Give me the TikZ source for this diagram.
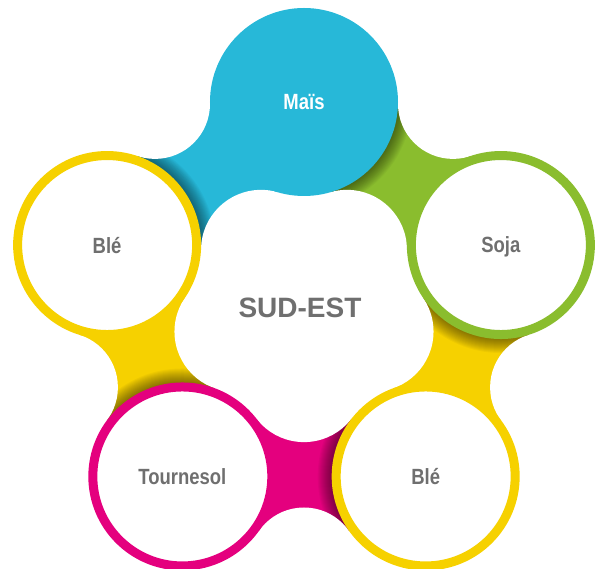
\documentclass[tikz,border=0pt]{standalone}
\usepackage{fontspec}
\setmainfont{Liberation Sans}
\newfontfamily\condfont{Liberation Sans}[FakeStretch=0.84]
\usetikzlibrary{calc}
\definecolor{cblue}{HTML}{27B8D8}
\definecolor{cgreen}{HTML}{8ABD2E}
\definecolor{cyellow}{HTML}{F6D100}
\definecolor{cmagenta}{HTML}{E4007E}
\definecolor{tgrey}{HTML}{6F6F6F}
\pgfdeclarelayer{bg}
\pgfsetlayers{bg,main}
\newcommand\petalconnector[4]{%
  \begin{scope}
    \clip (#1.center) -- (#3:253.5) -- (#2.center) -- (#3:73.1) -- cycle;
    \fill[#4] (#1.center) -- (#3:253.5) -- (#2.center) -- (#3:73.1) -- cycle;
    \foreach \k in {1,...,14} \fill[black, opacity=0.035] (#2.center) circle ({94+\k});
  \end{scope}}
\newcommand\petalfillets[1]{%
  \fill[white] (#1:253.5) circle (55);
  \fill[white] (#1:73.1) circle (60);}
\begin{document}
\begin{tikzpicture}[x=1pt,y=1pt,
  ring/.style={circle, minimum size=179pt, inner sep=0pt, outer sep=0pt,
    line width=9pt, fill=white, text=tgrey, text depth=0pt,
    font=\condfont\bfseries\fontsize{22}{22}\selectfont},
  centerlabel/.style={text=tgrey, inner sep=0pt,
    font=\bfseries\fontsize{28}{28}\selectfont}]
\useasboundingbox (-304,-260) rectangle (301,309);
\node[ring, draw=cblue, fill=cblue, text=white] (mais) at (90:207) {Maïs};
\node[ring, draw=cyellow] (bleL) at (162:207) {Blé};
\node[ring, draw=cmagenta] (tour) at (234:207) {Tournesol};
\node[ring, draw=cyellow] (bleB) at (306:207) {Blé};
\node[ring, draw=cgreen] (soja) at (18:207) {Soja};
\node[centerlabel] (sud) at (-4,1) {SUD-EST};
\begin{pgfonlayer}{bg}
  \petalconnector{mais}{bleL}{126}{cblue}
  \petalconnector{bleL}{tour}{198}{cyellow}
  \petalconnector{tour}{bleB}{270}{cmagenta}
  \petalconnector{bleB}{soja}{342}{cyellow}
  \petalconnector{soja}{mais}{54}{cgreen}
  \foreach \m in {126,198,270,342,54} {\petalfillets{\m}}
\end{pgfonlayer}
\end{tikzpicture}
\end{document}
